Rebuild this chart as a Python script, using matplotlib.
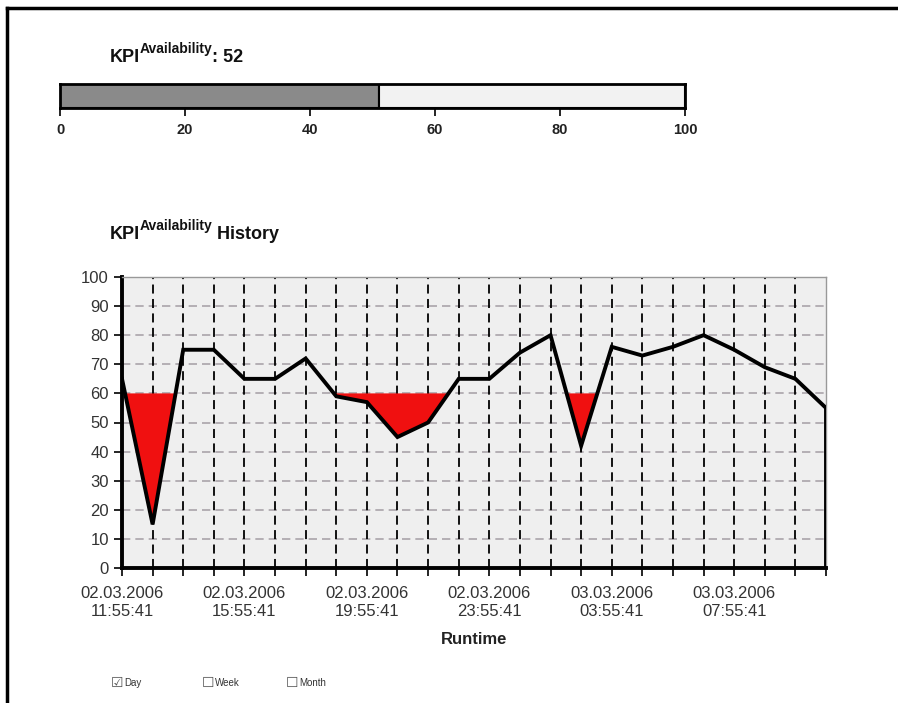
import numpy as np
import matplotlib.pyplot as plt
from matplotlib.lines import Line2D

# data
kpi_label = '52'
kpi_bar_value = 51
bar_ticks = [0, 20, 40, 60, 80, 100]

history = [65, 15, 75, 75, 65, 65, 72, 59, 57, 45, 50, 65,
           65, 74, 80, 42, 76, 73, 76, 80, 75, 69, 65, 55]
threshold = 60
time_labels = ['02.03.2006\n11:55:41', '02.03.2006\n15:55:41', '02.03.2006\n19:55:41',
               '02.03.2006\n23:55:41', '03.03.2006\n03:55:41', '03.03.2006\n07:55:41']
label_step = 4
y_ticks = list(range(0, 101, 10))
periods = ['Day', 'Week', 'Month']
period_checked = [True, False, False]

plt.rcParams['font.family'] = ['Liberation Sans', 'DejaVu Sans']

W, H = 898, 703
fig = plt.figure(figsize=(W / 100, H / 100), dpi=100)


def fx(px):
    return px / W


def fy(py):
    return 1 - py / H


# overlay axes for page frame and titles
over = fig.add_axes([0, 0, 1, 1], zorder=10)
over.set_xlim(0, 1)
over.set_ylim(0, 1)
over.axis('off')
over.add_line(Line2D([fx(7), 1], [fy(8), fy(8)], color='black', lw=2.5))
over.add_line(Line2D([fx(7), fx(7)], [0, fy(8)], color='black', lw=2.5))


def kpi_title(x, y, tail):
    t1 = over.text(x, y, 'KPI', fontsize=13, fontweight='bold', va='bottom', color='#111111')
    t2 = over.annotate('Availability', xy=(1, 0.58), xycoords=t1, xytext=(-0.5, 0),
                       textcoords='offset points', fontsize=10, fontweight='bold',
                       va='bottom', color='#111111')
    over.annotate(tail, xy=(1, 0), xycoords=(t2, t1), xytext=(0, 0),
                  textcoords='offset points', fontsize=13, fontweight='bold',
                  va='bottom', color='#111111')


kpi_title(fx(110), fy(66), ': ' + kpi_label)
kpi_title(fx(110), fy(243), ' History')

# top gauge bar
axb = fig.add_axes([fx(60), fy(108), fx(685) - fx(60), fy(84) - fy(108)])
axb.barh(0, kpi_bar_value, height=1, color='#8a8a8a', edgecolor='black', lw=1.5)
axb.barh(0, 100 - kpi_bar_value, left=kpi_bar_value, height=1, color='#f2f2f2',
         edgecolor='black', lw=1.5)
axb.set_xlim(0, 100)
axb.set_ylim(-0.5, 0.5)
axb.set_yticks([])
axb.set_xticks(bar_ticks)
axb.set_xticklabels([str(v) for v in bar_ticks], fontweight='bold', fontsize=10.5, color='#222222')
axb.tick_params(axis='x', direction='out', length=6, width=1.2, pad=5)
for s in axb.spines.values():
    s.set_linewidth(2)
    s.set_color('black')

# history chart
ax = fig.add_axes([fx(122), fy(568), fx(826) - fx(122), fy(277) - fy(568)])
x = np.arange(len(history))
y = np.array(history)
ax.set_facecolor('#efefef')
# the source chart leaves the last (open) segment unfilled
ax.fill_between(x[:-1], y[:-1], threshold, where=y[:-1] < threshold, interpolate=True,
                color='#f01010', lw=0, zorder=2)
ax.plot(x, y, color='black', lw=2.8, zorder=3, solid_joinstyle='miter')
ax.plot([x[-1], x[-1]], [y[-1], 0], color='black', lw=2.8, zorder=3)
ax.set_xlim(x[0], x[-1])
ax.set_ylim(0, 100)

ax.set_yticks(y_ticks)
ax.set_yticklabels([str(v) for v in y_ticks], fontsize=12, color='#333333')
ax.set_xticks(x)
labels = [''] * len(x)
for i, lab in enumerate(time_labels):
    labels[i * label_step] = lab
ax.set_xticklabels(labels, fontsize=12, color='#333333', linespacing=1.25)
ax.tick_params(direction='out', length=6, width=1.2, color='black')
ax.tick_params(axis='x', pad=7)

for v in y_ticks[1:-1]:
    ax.axhline(v, color='#aaa4aa', lw=1.2, ls=(0, (5, 3)), zorder=1)
for v in x[1:-1]:
    ax.axvline(v, color='black', lw=1.3, ls=(0, (5, 3)), zorder=1)

for side in ['left', 'bottom']:
    ax.spines[side].set_linewidth(2.8)
    ax.spines[side].set_color('black')
for side in ['top', 'right']:
    ax.spines[side].set_linewidth(1)
    ax.spines[side].set_color('#999999')

ax.set_xlabel('Runtime', fontsize=12, fontweight='bold', color='#222222', labelpad=9)

# period checkboxes
box_x = [111, 202, 286]
for px, name, checked in zip(box_x, periods, period_checked):
    glyph = '\u2611' if checked else '\u2610'
    over.text(fx(px), fy(683), glyph, fontsize=10, family='DejaVu Sans',
              color='#555555', va='center')
    over.text(fx(px + 13), fy(683), name, fontsize=7, color='#333333', va='center')

fig.savefig('out.png', dpi=100)
